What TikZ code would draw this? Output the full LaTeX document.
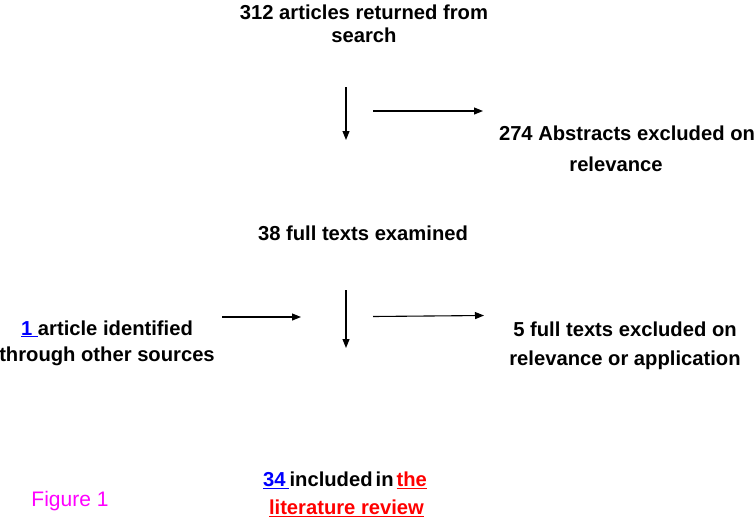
\documentclass[tikz,border=0pt]{standalone}
\usepackage{fontspec}
\setmainfont{Liberation Sans}
\usetikzlibrary{arrows.meta}
\definecolor{lnkblue}{RGB}{0,0,255}
\definecolor{lnkred}{RGB}{255,0,0}
\definecolor{figmag}{RGB}{255,0,255}
\begin{document}
\begin{tikzpicture}[x=1pt,y=-1pt,
  lbl/.style={align=center,inner sep=0pt,font=\fontsize{20.2}{23}\selectfont\bfseries},
  arr/.style={line width=1.1pt,-{Triangle[length=9pt,width=7pt]}}]
\useasboundingbox (0,0) rectangle (756,520);
\node[lbl] (search) at (364,23.5) {312 articles returned from\\ search};
\node[lbl,font=\fontsize{20.2}{31}\selectfont\bfseries] (abs) at (627,148.5) {274 Abstracts excluded on\\ relevance\hspace*{22pt}};
\node[lbl] (full) at (363,233) {38 full texts examined};
\node[lbl,font=\fontsize{20.2}{26}\selectfont\bfseries] (other) at (107,343) {\textcolor{lnkblue}{\underline{1\ }}article identified\\ through other sources};
\node[lbl,font=\fontsize{20.2}{29}\selectfont\bfseries] (excl) at (625,345.5) {5 full texts excluded on\\ relevance or application};
\node[lbl,font=\fontsize{20.2}{28}\selectfont\bfseries] (incl) at (345,494) {\textcolor{lnkblue}{\underline{34\hspace{3pt}}}\hspace{1pt}included\hspace{3pt}in\hspace{3pt}\textcolor{lnkred}{\underline{the}}\\ \hspace*{3pt}\textcolor{lnkred}{\underline{literature review}}};
\node[inner sep=0pt,font=\fontsize{21}{23}\selectfont,text=figmag] (fig) at (70,501) {Figure 1};
\coordinate (a1s) at (346,87);  \coordinate (a1e) at (346,140);
\coordinate (a2s) at (373,111); \coordinate (a2e) at (483,111);
\coordinate (a3s) at (222,317); \coordinate (a3e) at (301,317);
\coordinate (a4s) at (346,290); \coordinate (a4e) at (346,348);
\coordinate (a5s) at (373,316.5); \coordinate (a5e) at (484,315.5);
\draw[arr] (a1s) -- (a1e);
\draw[arr] (a2s) -- (a2e);
\draw[arr] (a3s) -- (a3e);
\draw[arr] (a4s) -- (a4e);
\draw[arr] (a5s) -- (a5e);
\end{tikzpicture}
\end{document}
